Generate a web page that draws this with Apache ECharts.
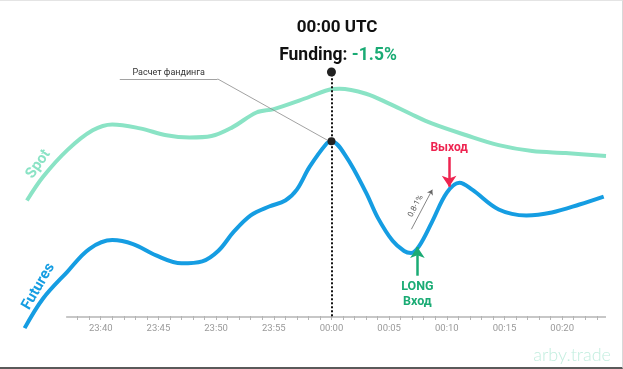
<!DOCTYPE html>
<html><head><meta charset="utf-8">
<script src="https://cdn.jsdelivr.net/npm/echarts@6/dist/echarts.min.js"></script>
<style>
html,body{margin:0;padding:0;background:#fff;}
#c{width:623px;height:369px;box-sizing:border-box;border-top:1px solid #e4e4e4;border-right:1px solid #d8d8d8;border-bottom:2px solid #5a5a5a;}
</style></head>
<body><div id="c"></div>
<script>
// minutes relative to 00:00 UTC
const spotX = [-26.4,-25.0,-22.9,-20.7,-19.0,-16.6,-14.3,-12.3,-10.4,-8.6,-6.5,-5.0,-2.8,-0.2,0.7,3.0,5.0,6.8,8.7,11.7,14.5,17.4,20.3,23.8];
const spotY = [46.8,56.4,67.2,75.2,77.6,76,73.2,72.3,72.9,76.4,82.4,83.8,87.2,91.6,92,90,86,82,78,73.2,69.2,66.8,66,64.8];
const futX = [-26.6,-25.0,-22.9,-21.0,-19.0,-17.2,-15.2,-13.0,-11.2,-9.8,-8.5,-7.0,-5.4,-4.0,-3.0,-1.9,-0.4,0,1.3,3.0,4.0,5.3,6.3,6.9,7.6,8.7,10.0,11.1,12.2,14.5,16.9,19.1,21.5,23.6];
const futY = [-4.8,7.2,18,27.2,30.8,29.2,24.6,21.4,22.2,26.5,34,40.8,44.4,46.8,51.2,60.4,70,70.8,64.4,50,40,30.5,26.4,25.6,28.4,38,50,54,51.2,43.2,40.8,42,45.2,48.4];
const tickValues = [-20,-15,-10,-5,0,5,10,15,20];
const tickLabels = ['23:40','23:45','23:50','23:55','00:00','00:05','00:10','00:15','00:20'];
const minorTicks = [];
for (let m = -22; m <= 23; m++) minorTicks.push(m);
const fundingPeak = [0, 70.8];

const SPOT = '#8ae3c5', FUT = '#159de2', GREEN = '#1aab74', RED = '#ee2450';
const FONT = 'Roboto, "Noto Sans", sans-serif';

const chart = echarts.init(document.getElementById('c'), null, {renderer:'canvas'});
const zip = (xs, ys) => xs.map((x, i) => [x, ys[i]]);

chart.setOption({
  animation: false,
  textStyle: {fontFamily: FONT},
  title: [
    {text: '00:00 UTC', left: 332, top: 13, textAlign: 'center',
     textStyle: {fontSize: 17, fontWeight: 'bold', color: '#111', fontFamily: FONT}},
    {text: '{a|Funding:} {b|-1.5%}', left: 333, top: 41, textAlign: 'center',
     textStyle: {rich: {a: {fontSize: 17.5, fontWeight: 'bold', color: '#111', fontFamily: FONT},
                        b: {fontSize: 17.5, fontWeight: 'bold', color: GREEN, fontFamily: FONT}}}},
    {text: 'arby.trade', right: 6, top: 340,
     textStyle: {fontSize: 18, fontWeight: 300, color: '#c3eedf', fontFamily: 'Lato, sans-serif'}}
  ],
  grid: [
    {left: 20, right: 16, top: 68, bottom: 26},
    {left: 20, right: 16, top: 68, bottom: 51}
  ],
  xAxis: [
    {type: 'value', gridIndex: 0, min: -27, max: 23.8, show: false, splitLine: {show: false}},
    {type: 'value', gridIndex: 1, min: -27, max: 23.8,
     splitLine: {show: false},
     axisLine: {show: false},
     axisTick: {customValues: minorTicks, length: 4, lineStyle: {color: '#b5b5b5'}},
     axisLabel: {customValues: tickValues, color: '#9a9a9a', fontSize: 9.5, margin: 8,
       formatter: v => tickLabels[tickValues.indexOf(v)] || ''}}
  ],
  yAxis: [
    {type: 'value', gridIndex: 0, min: -10, max: 100, show: false},
    {type: 'value', gridIndex: 1, min: 0, max: 100, show: false}
  ],
  series: [
    {type: 'line', name: 'Spot', data: zip(spotX, spotY), smooth: 0.35, showSymbol: false,
     lineStyle: {color: SPOT, width: 4}, z: 2,
     markPoint: {symbol: 'circle', symbolSize: 1, itemStyle: {color: 'rgba(0,0,0,0)'},
       data: [{coord: [-25.4, 61.5], label: {show: true, formatter: 'Spot', rotate: 55, position: 'inside',
         fontSize: 15, fontWeight: 'bold', color: SPOT, fontFamily: FONT}}]}},
    {type: 'line', name: 'Futures', data: zip(futX, futY), smooth: 0.35, showSymbol: false,
     lineStyle: {color: FUT, width: 4}, z: 3,
     markPoint: {symbol: 'circle', symbolSize: 1, itemStyle: {color: 'rgba(0,0,0,0)'},
       data: [{coord: [-25.4, 12], label: {show: true, formatter: 'Futures', rotate: 60, position: 'inside',
         fontSize: 15, fontWeight: 'bold', color: FUT, fontFamily: FONT}}]}},
    // axis baseline from 23:37 onwards
    {type: 'line', data: [], z: 1,
     markLine: {silent: true, symbol: 'none', label: {show: false},
       lineStyle: {color: '#b5b5b5', type: 'solid', width: 1.5},
       data: [[{coord: [-23, 0]}, {coord: [23.8, 0]}]]}},
    // funding vertical dotted line and dots
    {type: 'line', data: [], z: 4,
     markLine: {silent: true, symbol: 'none', label: {show: false},
       lineStyle: {color: '#111', type: [2, 2], width: 2},
       data: [[{coord: [0, 0]}, {coord: [0, 98.8]}]]},
     markPoint: {symbol: 'circle', itemStyle: {color: '#222'}, label: {show: false},
       data: [{coord: [0, 98.8], symbolSize: 9}, {coord: fundingPeak, symbolSize: 8}]}},
    // leader line "Расчет фандинга"
    {type: 'line', data: [], z: 1,
     markLine: {silent: true, symbol: 'none', lineStyle: {color: '#8a8a8a', width: 0.8, type: 'solid'},
       data: [
         [{coord: [-18.35, 96], label: {show: true, formatter: 'Расчет фандинга', position: 'insideMiddleTop',
            fontSize: 9, color: '#333', distance: 2}}, {coord: [-9.87, 96]}],
         [{coord: [-9.87, 96], label: {show: false}}, {coord: [-0.35, 71.2]}]
       ]}},
    // exit arrow
    {type: 'line', data: [], z: 5,
     markLine: {silent: true, symbol: ['none', 'arrow'], symbolSize: 11,
       lineStyle: {color: RED, width: 2.5, type: 'solid'},
       label: {show: true, position: 'start', formatter: 'Выход', color: RED, fontSize: 12, fontWeight: 'bold', distance: 3},
       data: [[{coord: [10.2, 64.4]}, {coord: [10.2, 52.4]}]]}},
    // long entry arrow
    {type: 'line', data: [], z: 5,
     markLine: {silent: true, symbol: ['none', 'arrow'], symbolSize: 11,
       lineStyle: {color: GREEN, width: 2.5, type: 'solid'},
       label: {show: true, position: 'start', formatter: 'LONG\nВход', color: GREEN, fontSize: 12.5, fontWeight: 'bold',
         lineHeight: 15, align: 'center', distance: 4},
       data: [[{coord: [7.45, 16.4]}, {coord: [7.45, 28]}]]}},
    // 0.8-1% arrow
    {type: 'line', data: [], z: 5,
     markLine: {silent: true, symbol: ['none', 'arrow'], symbolSize: 5,
       lineStyle: {color: '#666', width: 0.8, type: 'solid'},
       label: {show: true, position: 'insideMiddleTop', formatter: '0.8-1%', color: '#555', fontSize: 8, distance: 3},
       data: [[{coord: [6.93, 35.2]}, {coord: [8.74, 51.2]}]]}}
  ]
});
</script></body></html>
